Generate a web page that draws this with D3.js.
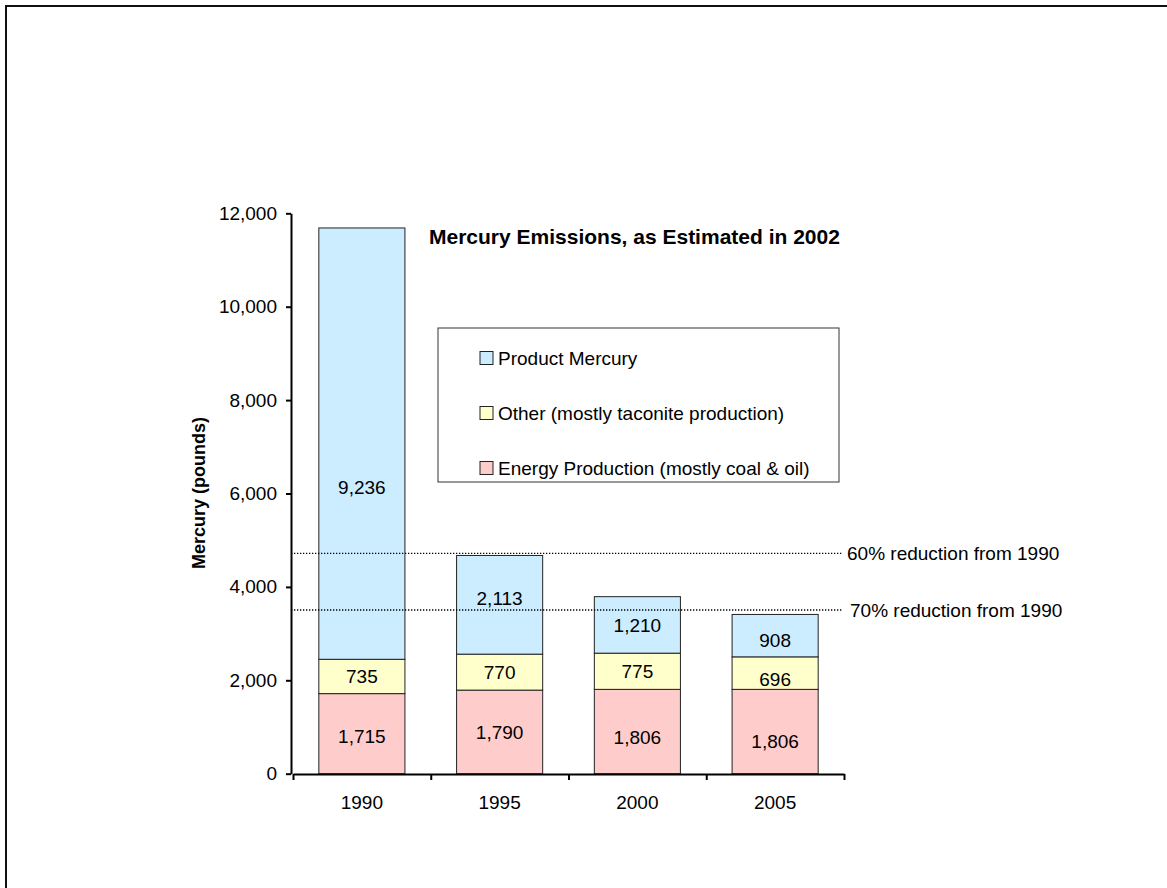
<!DOCTYPE html>
<html>
<head>
<meta charset="utf-8">
<script src="https://cdn.jsdelivr.net/npm/d3@7"></script>
<style>
  body { margin: 0; background: #fff; }
  svg { display: block; font-family: "Liberation Sans", Arial, sans-serif; }
  .axis path, .axis line { stroke: #000; stroke-width: 2px; }
  .axis text { font-size: 19px; fill: #000; }
</style>
</head>
<body>
<div class="chart"></div>
<script>
// data
var years = ["1990", "1995", "2000", "2005"];
var energy = [1715, 1790, 1806, 1806];
var other = [735, 770, 775, 696];
var product = [9236, 2113, 1210, 908];
var seriesKeys = ["energy", "other", "product"];
var seriesNames = ["Energy Production (mostly coal & oil)", "Other (mostly taconite production)", "Product Mercury"];
var yTicks = [0, 2000, 4000, 6000, 8000, 10000, 12000];
var targetValues = [4720, 3505];
var targetLabels = ["60% reduction from 1990", "70% reduction from 1990"];

var width = 1167, height = 888;

var colors = {
  energy: "#FFCCCC",
  other: "#FFFFCC",
  product: "#CCECFF"
};

// labels in the original were dragged a bit off centre (pixels)
var labelNudge = {
  "product-1990": 44, "product-1995": -6, "product-2005": 5,
  "other-2005": 6, "energy-2000": 6, "energy-2005": 10, "energy-1990": 3
};

var table = years.map(function(yr, i) {
  return { year: yr, energy: energy[i], other: other[i], product: product[i] };
});

var svg = d3.select(".chart").append("svg")
  .attr("width", width)
  .attr("height", height);

// outer frame (only top and left edges show)
svg.append("rect")
  .attr("x", 6).attr("y", 6)
  .attr("width", width + 20).attr("height", height + 20)
  .attr("fill", "none")
  .attr("stroke", "#111")
  .attr("stroke-width", 2);

var x = d3.scaleBand()
  .domain(years)
  .range([293, 844])
  .paddingInner(0.375)
  .paddingOuter(0.1875);

var xEdges = d3.scaleLinear().domain([0, years.length]).range([293, 844]);

var y = d3.scaleLinear()
  .domain([0, 12000])
  .range([773.7, 213.3]);

var stacked = d3.stack().keys(seriesKeys)(table);

// bars
var layers = svg.selectAll(".layer")
  .data(stacked)
  .enter().append("g")
  .attr("class", "layer")
  .attr("fill", function(d) { return colors[d.key]; });

layers.selectAll("rect")
  .data(function(d) { return d; })
  .enter().append("rect")
  .attr("x", function(d) { return x(d.data.year); })
  .attr("y", function(d) { return y(d[1]); })
  .attr("width", x.bandwidth())
  .attr("height", function(d) { return y(d[0]) - y(d[1]); })
  .attr("stroke", "#222")
  .attr("stroke-width", 1);

// value labels
var fmt = d3.format(",");
layers.each(function(layer) {
  d3.select(this).selectAll("text")
    .data(layer)
    .enter().append("text")
    .attr("x", function(d) { return x(d.data.year) + x.bandwidth() / 2; })
    .attr("y", function(d) {
      var nudge = labelNudge[layer.key + "-" + d.data.year] || 0;
      return (y(d[0]) + y(d[1])) / 2 + nudge;
    })
    .attr("dy", "0.35em")
    .attr("text-anchor", "middle")
    .attr("fill", "#000")
    .style("font-size", "19px")
    .text(function(d) { return fmt(d[1] - d[0]); });
});

// target lines
var targets = svg.selectAll(".target")
  .data(targetValues)
  .enter().append("g")
  .attr("class", "target");

targets.append("line")
  .attr("x1", 291).attr("x2", 843)
  .attr("y1", function(d) { return y(d); })
  .attr("y2", function(d) { return y(d); })
  .attr("stroke", "#000")
  .attr("stroke-width", 1.3)
  .attr("stroke-dasharray", "1.3,1.7");

targets.append("text")
  .attr("x", function(d, i) { return i == 0 ? 847 : 850; })
  .attr("y", function(d) { return y(d); })
  .attr("dy", "0.35em")
  .style("font-size", "19px")
  .text(function(d, i) { return targetLabels[i]; });

// axes
var yAxis = d3.axisLeft(y)
  .tickValues(yTicks)
  .tickFormat(fmt)
  .tickSize(5)
  .tickSizeOuter(0)
  .tickPadding(9);

svg.append("g")
  .attr("class", "y axis")
  .attr("transform", "translate(291,0)")
  .call(yAxis);

svg.append("g")
  .attr("class", "x axis")
  .attr("transform", "translate(0,774)")
  .call(d3.axisBottom(xEdges).tickValues(d3.range(years.length + 1)).tickFormat("").tickSize(6).tickSizeOuter(0));

var xLabels = svg.append("g")
  .attr("class", "x axis")
  .attr("transform", "translate(0,774)")
  .call(d3.axisBottom(x).tickSize(0).tickPadding(22));
xLabels.select(".domain").remove();

// y axis title
svg.append("text")
  .attr("transform", "translate(205,493) rotate(-90)")
  .attr("text-anchor", "middle")
  .style("font-size", "18px")
  .style("font-weight", "bold")
  .text("Mercury (pounds)");

// chart title
svg.append("text")
  .attr("x", 429)
  .attr("y", 244)
  .style("font-size", "21px")
  .style("font-weight", "bold")
  .text("Mercury Emissions, as Estimated in 2002");

// legend
var legend = svg.append("g").attr("transform", "translate(438,328)");
legend.append("rect")
  .attr("width", 401).attr("height", 154)
  .attr("fill", "#fff")
  .attr("stroke", "#333")
  .attr("stroke-width", 1);

var items = legend.selectAll(".item")
  .data(seriesKeys.slice().reverse())
  .enter().append("g")
  .attr("class", "item")
  .attr("transform", function(d, i) { return "translate(42," + (30 + i * 55) + ")"; });

items.append("rect")
  .attr("width", 13).attr("height", 13)
  .attr("y", -6.5)
  .attr("fill", function(d) { return colors[d]; })
  .attr("stroke", "#222")
  .attr("stroke-width", 1);

items.append("text")
  .attr("x", 18)
  .attr("dy", "0.35em")
  .style("font-size", "19px")
  .text(function(d) { return seriesNames[seriesKeys.indexOf(d)]; });
</script>
</body>
</html>
